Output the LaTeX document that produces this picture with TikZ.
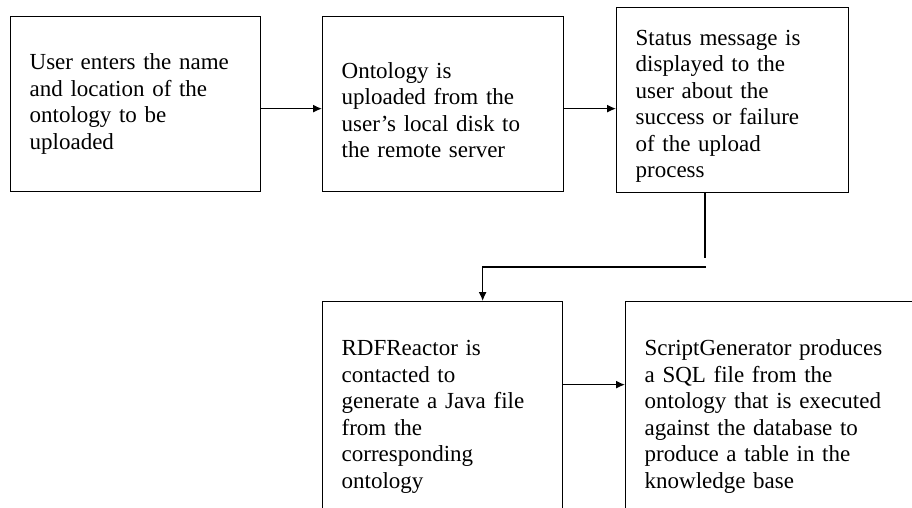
\documentclass[tikz,border=0pt]{standalone}
\usepackage{fontspec}
\setmainfont{Liberation Serif}
\usetikzlibrary{arrows.meta}

\tikzset{
  stage/.style={draw, line width=1.3pt, anchor=north west, align=left,
    inner xsep=19pt, inner ysep=0pt,
    font=\fontsize{23}{26.5}\selectfont},
  arr/.style={line width=1.3pt, -{Latex[length=9pt,width=8pt]}}
}

\begin{document}
\begin{tikzpicture}[x=1pt,y=-1pt]
  \useasboundingbox (0,0) rectangle (912,507);
  \clip (0,0) rectangle (912,507);
  % upper row
  \node[stage, text width=212pt, minimum height=175pt] (enter) at (10,16)
    {User enters the name\\and location of the\\ontology to be\\uploaded};
  \node[stage, text width=203pt, minimum height=175pt] (upload) at (322,16)
    {\rule{0pt}{28pt}Ontology is\\uploaded from the\\user's local disk to\\the remote server};
  \node[stage, text width=194pt, minimum height=185pt] (status) at (616,7)
    {\rule{0pt}{28pt}Status message is\\displayed to the\\user about the\\success or failure\\of the upload\\process};
  % lower row (runs past the bottom edge)
  \node[stage, text width=202pt, minimum height=230pt] (rdf) at (322,301)
    {RDFReactor is\\contacted to\\generate a Java file\\from the\\corresponding\\ontology};
  \node[stage, text width=262pt, minimum height=230pt] (script) at (625,301)
    {ScriptGenerator produces\\a SQL file from the\\ontology that is executed\\against the database to\\produce a table in the\\knowledge base};
  % connectors
  \draw[arr] ([yshift=-4.5pt]enter.east) -- ([yshift=-4.5pt]upload.west);
  \draw[arr] ([yshift=-4.5pt]upload.east) -- ([yshift=-4.5pt]upload.east -| status.west);
  \coordinate (drop) at (705,258);
  \coordinate (turn) at (706,267);
  \draw[line width=1.3pt] (status.south -| drop) -- (drop);
  \draw[arr] (turn) -| ([xshift=40pt]rdf.north);
  \draw[arr] ([yshift=32pt]rdf.east) -- ([yshift=32pt]rdf.east -| script.west);
\end{tikzpicture}
\end{document}
